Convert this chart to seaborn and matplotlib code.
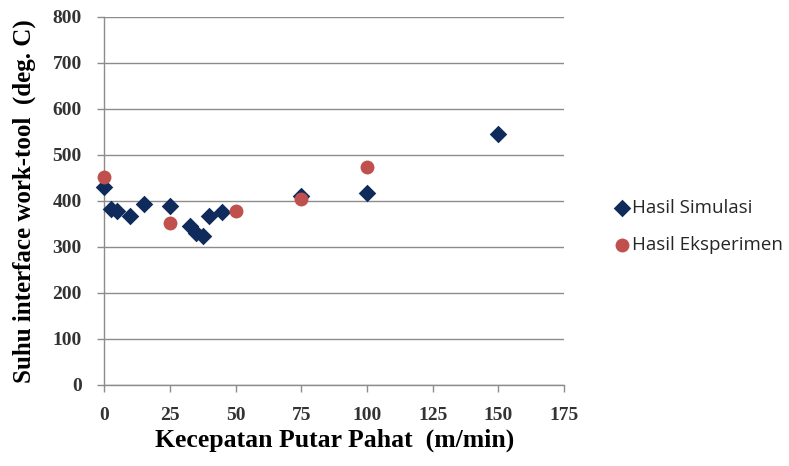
import matplotlib
matplotlib.use("Agg")
import matplotlib.pyplot as plt
import seaborn as sns
import pandas as pd

sim_x = [0, 2.5, 5, 10, 15, 25, 32.5, 35, 37.5, 40, 45, 75, 100, 150]
sim_y = [430, 383, 378, 368, 393, 388, 346, 330, 323, 367, 375, 410, 418, 545]
exp_x = [0, 25, 50, 75, 100]
exp_y = [451, 352, 379, 404, 473]
x_ticks = [0, 25, 50, 75, 100, 125, 150, 175]
y_ticks = [0, 100, 200, 300, 400, 500, 600, 700, 800]

sns.set_theme(style="white")
plt.rcParams['font.family'] = ['DejaVu Sans']

fig = plt.figure(figsize=(7.89, 4.66), dpi=100)
ax = fig.add_axes([0.132, 0.174, 0.583, 0.79])

sim = pd.DataFrame({"x": sim_x, "y": sim_y})
exp = pd.DataFrame({"x": exp_x, "y": exp_y})

sns.scatterplot(data=sim, x="x", y="y", ax=ax, marker="D", s=80, color="#0F2B5B",
                edgecolor="#0F2B5B", linewidth=0, label="Hasil Simulasi", zorder=3,
                clip_on=False)
sns.scatterplot(data=exp, x="x", y="y", ax=ax, marker="o", s=100, color="#C0504D",
                edgecolor="#C0504D", linewidth=0, label="Hasil Eksperimen", zorder=4,
                clip_on=False)

ax.set_xlim(0, 175)
ax.set_ylim(0, 800)
ax.set_xticks(x_ticks)
ax.set_yticks(y_ticks)
ax.grid(axis="y", color="#8C8C8C", linewidth=1)
ax.grid(axis="x", visible=False)
for s in ["top", "right"]:
    ax.spines[s].set_visible(False)
for s in ["left", "bottom"]:
    ax.spines[s].set_color("#8C8C8C")
    ax.spines[s].set_linewidth(1)
ax.tick_params(axis="y", which="major", direction="out", length=5, width=1,
               color="#8C8C8C", left=True, pad=11)
ax.tick_params(axis="x", which="major", direction="out", length=5, width=1,
               color="#8C8C8C", bottom=True, pad=11)
for lab in ax.get_xticklabels() + ax.get_yticklabels():
    lab.set_fontfamily("Liberation Serif")
    lab.set_fontweight("bold")
    lab.set_fontsize(14)
    lab.set_color("#333333")

ax.set_xlabel("Kecepatan Putar Pahat  (m/min)", family="Liberation Serif",
              fontweight="bold", fontsize=18.5, color="black", labelpad=3)
ax.set_ylabel("Suhu interface work-tool  (deg. C)", family="Liberation Serif",
              fontweight="bold", fontsize=18, color="black", labelpad=12)

leg = ax.legend(loc="center left", bbox_to_anchor=(1.09, 0.43), frameon=False,
                prop={"family": "Open Sans", "size": 13.5}, handletextpad=0.0,
                labelspacing=1.0, handlelength=1.0, borderaxespad=0)

fig.savefig("out.png", dpi=100)
